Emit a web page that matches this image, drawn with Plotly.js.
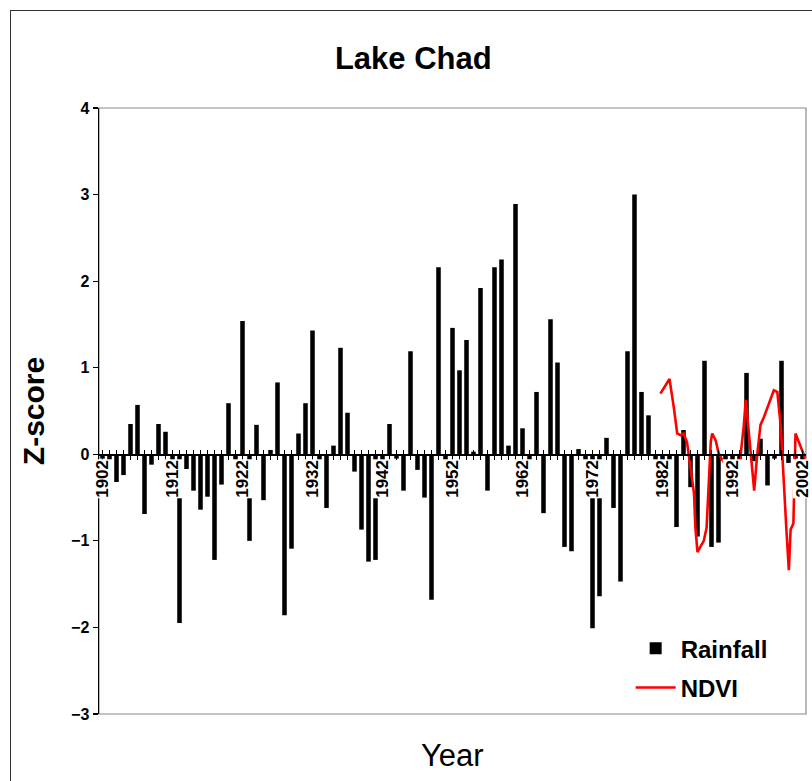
<!DOCTYPE html>
<html>
<head>
<meta charset="utf-8">
<script src="https://cdn.plot.ly/plotly-3.0.1.min.js"></script>
<style>
  html, body { margin:0; padding:0; background:#ffffff; }
  #frame { position:absolute; left:10px; top:10px; width:900px; height:900px; border:1.5px solid #333; box-sizing:border-box; }
  #chart { position:absolute; left:0; top:0; width:812px; height:781px; }
  body { width:812px; height:781px; overflow:hidden; }
</style>
</head>
<body>
<div id="frame"></div>
<div id="chart"></div>
<script>
// ---- Data ----
const firstYear = 1902;
const rainfall = [
  -0.05, -0.10, -0.32, -0.24, 0.35, 0.57, -0.69, -0.12, 0.35, 0.26,   // 1902-1911
  -0.10, -1.95, -0.17, -0.42, -0.64, -0.49, -1.22, -0.35, 0.59, -0.10, // 1912-1921
  1.54, -1.00, 0.34, -0.53, 0.05, 0.83, -1.86, -1.09, 0.24, 0.59,      // 1922-1931
  1.43, -0.16, -0.62, 0.10, 1.23, 0.48, -0.20, -0.87, -1.24, -1.22,    // 1932-1941
  -0.15, 0.35, -0.05, -0.42, 1.19, -0.18, -0.50, -1.68, 2.16, -0.15,   // 1942-1951
  1.46, 0.97, 1.32, 0.03, 1.92, -0.42, 2.16, 2.25, 0.10, 2.89,         // 1952-1961
  0.30, -0.14, 0.72, -0.68, 1.56, 1.06, -1.07, -1.12, 0.06, -0.12,     // 1962-1971
  -2.01, -1.64, 0.19, -0.62, -1.47, 1.19, 3.00, 0.72, 0.45, -0.14,     // 1972-1981
  -0.10, -0.08, -0.84, 0.28, -0.38, -0.95, 1.08, -1.07, -1.02, -0.15,  // 1982-1991
  -0.10, -0.10, 0.94, -0.08, 0.18, -0.36, -0.05, 1.08, -0.10, -0.05,   // 1992-2001
  -0.08                                                                // 2002
];
const years = rainfall.map((v, i) => firstYear + i);

const ndviYears = [
  1981.7, 1983.0, 1983.6, 1984.1, 1984.6, 1985.0, 1985.5, 1986.0, 1986.5, 1986.7,
  1987.0, 1987.4, 1987.9, 1988.3, 1988.6, 1988.9, 1989.1, 1989.6, 1990.0, 1990.5,
  1991.0, 1992.2, 1993.1, 1993.6, 1993.9, 1994.3, 1994.8, 1995.1, 1995.5, 1996.0,
  1996.5, 1997.2, 1997.9, 1998.4, 1998.9, 1999.7, 2000.05, 2000.3, 2000.7, 2001.0,
  2001.5, 2002.4
];
const ndvi = [
  0.70, 0.87, 0.55, 0.24, 0.22, 0.24, 0.14, -0.18, -0.45, -0.85,
  -1.13, -1.07, -1.00, -0.85, -0.35, 0.15, 0.24, 0.16, 0.02, -0.06,
  -0.12, -0.12, -0.05, 0.32, 0.63, 0.30, -0.10, -0.42, -0.03, 0.34,
  0.43, 0.59, 0.74, 0.72, 0.32, -0.87, -1.34, -0.87, -0.80, 0.24,
  0.14, -0.05
];

const tickLabels = ['1902', '1912', '1922', '1932', '1942', '1952', '1962', '1972', '1982', '1992', '2002'];
const seriesNames = ['Rainfall', 'NDVI'];

// ---- Plot ----
const FONT = 'Liberation Sans, Arial, Helvetica, sans-serif';
const xRange = [years[0] - 0.5, years[years.length - 1] + 0.5];
const zeroPos = 3 / 7;

const traces = [
  {
    type: 'bar', x: years, y: rainfall, name: seriesNames[0], legendgroup: 'a',
    marker: { color: '#000000', line: { width: 0 } },
    xaxis: 'x', yaxis: 'y'
  },
  {
    type: 'scatter', mode: 'lines', x: ndviYears, y: ndvi, name: seriesNames[1], legendgroup: 'b',
    line: { color: '#ff0000', width: 2.6 },
    xaxis: 'x2', yaxis: 'y'
  }
];

// Category labels at the zero line, with a white backing like the original
const labelAnnotations = tickLabels.map(t => ({
  text: t, x: Number(t), xref: 'x', y: 0, yref: 'y',
  textangle: -90, xanchor: 'center', yanchor: 'top', yshift: -5,
  showarrow: false, bgcolor: '#ffffff', borderpad: 0,
  font: { family: FONT, size: 17, weight: 'bold', color: '#000' }
}));

const layout = {
  width: 812, height: 781,
  margin: { l: 99, r: 6, t: 108, b: 67 },
  paper_bgcolor: 'rgba(0,0,0,0)',
  plot_bgcolor: 'rgba(0,0,0,0)',
  font: { family: FONT, color: '#000' },
  showlegend: true,
  bargap: 0.35,
  title: {
    text: 'Lake Chad',
    font: { family: FONT, size: 31, weight: 'bold', color: '#000' },
    x: 0.509, xref: 'container', xanchor: 'center',
    y: 0.925, yref: 'container', yanchor: 'middle'
  },
  xaxis: {
    type: 'linear', range: xRange, autorange: false,
    anchor: 'free', position: zeroPos,
    showline: true, linecolor: '#000', linewidth: 1.5,
    showgrid: false, zeroline: false,
    ticks: 'outside', ticklen: 4, tickwidth: 1, tickcolor: '#000',
    tickmode: 'array', tickvals: years,
    showticklabels: false
  },
  xaxis2: {
    type: 'linear', range: xRange, autorange: false,
    overlaying: 'x', anchor: 'free', position: zeroPos,
    showline: false, showgrid: false, zeroline: false,
    showticklabels: false,
    ticks: 'inside', ticklen: 4, tickwidth: 1, tickcolor: '#000',
    tickmode: 'array', tickvals: years
  },
  yaxis: {
    range: [-3, 4], autorange: false, dtick: 1,
    showline: true, linecolor: '#000', linewidth: 1.5,
    showgrid: false, zeroline: false,
    ticks: 'outside', ticklen: 5, tickwidth: 1.2, tickcolor: '#000',
    tickfont: { family: FONT, size: 16, weight: 'bold', color: '#000' },
    title: { text: 'Z-score', font: { family: FONT, size: 30, weight: 'bold', color: '#000' }, standoff: 17 }
  },
  legend: {
    x: 0.752, y: 0.145, xanchor: 'left', yanchor: 'top',
    bgcolor: 'rgba(255,255,255,0)',
    font: { family: FONT, size: 24, weight: 'bold', color: '#000' },
    itemwidth: 40, tracegroupgap: 5, traceorder: 'grouped'
  },
  shapes: [
    { type: 'rect', xref: 'paper', yref: 'paper', x0: 0, x1: 1, y0: 0, y1: 1,
      line: { color: '#8a8a8a', width: 1.2 }, layer: 'below' }
  ],
  annotations: labelAnnotations.concat([
    { text: 'Year', xref: 'paper', yref: 'paper', x: 0.5, y: -0.068,
      xanchor: 'center', yanchor: 'middle', showarrow: false,
      font: { family: FONT, size: 31, color: '#000' } }
  ])
};

Plotly.newPlot('chart', traces, layout, { staticPlot: true, displayModeBar: false });
</script>
</body>
</html>
